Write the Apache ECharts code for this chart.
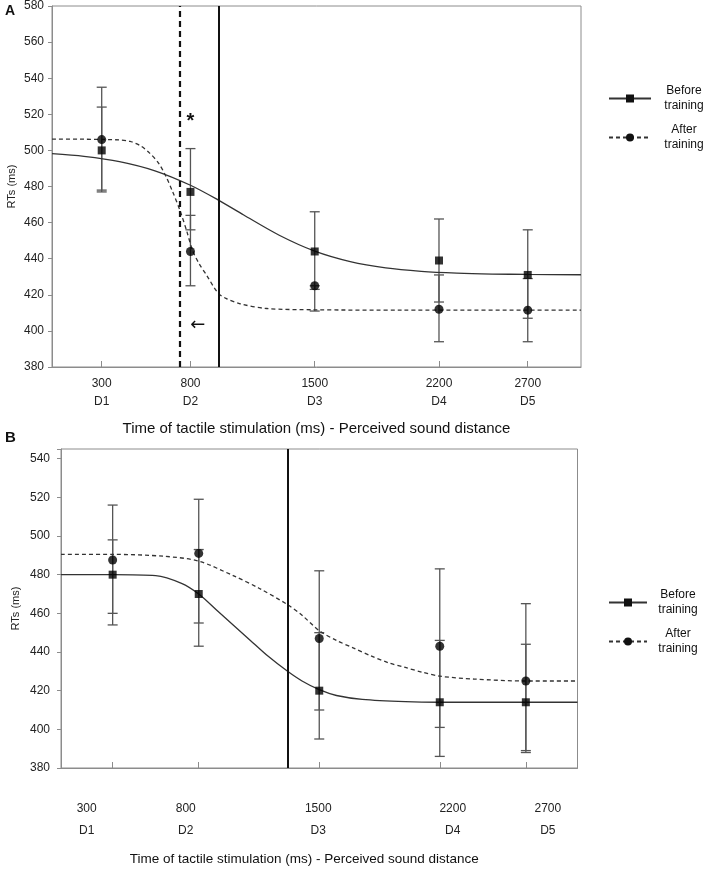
<!DOCTYPE html>
<html>
<head>
<meta charset="utf-8">
<script src="https://cdn.jsdelivr.net/npm/echarts@6/dist/echarts.min.js"></script>
<style>
html,body{margin:0;padding:0;background:#fff;}
#chart{width:708px;height:872px;}
</style>
</head>
<body>
<div id="chart"></div>
<script>
// ---------- data ----------
const xTicks = [300, 800, 1500, 2200, 2700];
const distLabels = ['D1', 'D2', 'D3', 'D4', 'D5'];
const xTitle = 'Time of tactile stimulation (ms) - Perceived sound distance';
const seriesNames = ['Before training', 'After training'];

// Panel A: means and error-bar extents [low, high]
const beforeA = [500, 477, 444, 439, 431];
const afterA = [506, 444, 425, 412, 411.5];
const beforeAErr = [[478, 524], [456, 501], [423, 466], [416, 462], [407, 456]];
const afterAErr = [[477, 535], [425, 464], [411, 425], [394, 431], [394, 429]];
// Panel A fitted curves
const curveTA = [20, 200, 400, 600, 800, 955, 1100, 1300, 1500, 1700, 1900, 2100, 2300, 2500, 2700, 3000];
const beforeCurveA = [498.2, 496.7, 493.8, 488.7, 480.7, 472.6, 464.2, 453.0, 444.2, 438.4, 434.9, 433.0, 432.0, 431.5, 431.3, 431.1];
const afterCurveTA = [20, 200, 400, 460, 520, 570, 620, 660, 700, 740, 780, 812, 850, 890, 955, 1000, 1080, 1230, 1500, 2000, 3000];
const afterCurveA = [506.3, 506.2, 505.8, 505, 502.5, 498.5, 493, 486, 477, 467, 455, 444.5, 437, 431, 421, 418, 415, 412.4, 411.7, 411.5, 411.5];
const pseBeforeA = 957;
const pseAfterA = 741;
const starA = [800, 516];
const arrowA = [841, 403];

// Panel B
const beforeB = [480, 470, 420, 414, 414];
const afterB = [487.6, 491, 447, 443, 425];
const beforeBErr = [[460, 498], [443, 493], [395, 450], [386, 446], [388, 444]];
const afterBErr = [[454, 516], [455, 519], [410, 482], [401, 483], [389, 465]];
const curveTB = [0, 300, 550, 700, 800, 900, 1000, 1100, 1200, 1316, 1400, 1500, 1600, 1750, 2000, 2200, 3000];
const beforeCurveB = [480, 480, 479.5, 475.5, 470, 462, 454, 446, 438, 430, 425, 420.5, 417.5, 415.5, 414.3, 414, 414];
const afterCurveTB = [0, 300, 600, 800, 1000, 1150, 1316, 1400, 1500, 1600, 1700, 1800, 1900, 2000, 2100, 2200, 2400, 2700, 3000];
const afterCurveB = [490.5, 490.5, 489.5, 487, 479.5, 473, 464.5, 459, 451, 446, 442, 438, 434.5, 432, 429.5, 427.5, 426, 425, 425];
const pseB = 1316;

// ---------- styles ----------
const FONT = 'Liberation Sans, Arial, sans-serif';
const frameColor = '#8c8c8c';
const errColor = '#555';
const labelShiftB = [-26, -13, -1, 13, 22]; // horizontal label offsets in panel B (px)

function zip(a, b) { return a.map((v, i) => [v, b[i]]); }
function errData(err) { return err.map((e, i) => [xTicks[i], e[0], e[1]]); }

function errRender(params, api) {
  const x = api.value(0), lo = api.value(1), hi = api.value(2);
  const p1 = api.coord([x, lo]), p2 = api.coord([x, hi]);
  const w = 5;
  const st = { stroke: errColor, lineWidth: 1.3 };
  return {
    type: 'group',
    children: [
      { type: 'line', shape: { x1: p1[0], y1: p1[1], x2: p2[0], y2: p2[1] }, style: st },
      { type: 'line', shape: { x1: p1[0] - w, y1: p1[1], x2: p1[0] + w, y2: p1[1] }, style: st },
      { type: 'line', shape: { x1: p2[0] - w, y1: p2[1], x2: p2[0] + w, y2: p2[1] }, style: st }
    ]
  };
}

function xAxisCfg(gi, min, opts) {
  return {
    gridIndex: gi, type: 'value', min: min, max: 3000,
    splitLine: { show: false },
    axisLine: { show: true, lineStyle: { color: frameColor, width: 1 } },
    axisTick: { show: true, customValues: xTicks, inside: true, length: 6, lineStyle: { color: frameColor } },
    axisLabel: opts.axisLabel,
    name: xTitle, nameLocation: 'middle', nameGap: opts.nameGap,
    nameTextStyle: opts.nameTextStyle
  };
}
function yAxisCfg(gi, max, nameGap, margin) {
  return {
    gridIndex: gi, type: 'value', min: 380, max: max, interval: 20,
    splitLine: { show: false },
    axisLine: { show: true, lineStyle: { color: frameColor } },
    axisTick: { show: true, length: 4, lineStyle: { color: frameColor } },
    axisLabel: { fontSize: 12, margin: margin, color: '#222', fontFamily: FONT,
      formatter: v => (v % 20 === 0 ? String(v) : '') },
    name: 'RTs (ms)', nameLocation: 'middle', nameGap: nameGap, nameMoveOverlap: false,
    nameTextStyle: { fontSize: 11, color: '#222', fontFamily: FONT }
  };
}

function curveSeries(name, gi, data, dashed, symbol, extra) {
  return Object.assign({
    name: name, type: 'line', xAxisIndex: gi, yAxisIndex: gi,
    data: data, smooth: 0.3, showSymbol: false, symbol: symbol, symbolSize: 8,
    color: '#111',
    lineStyle: { color: '#333', width: 1.3, type: dashed ? [4, 3] : 'solid' },
    z: 3, silent: true
  }, extra || {});
}
function pointSeries(gi, data, symbol, size) {
  return {
    name: 'pts', type: 'scatter', xAxisIndex: gi, yAxisIndex: gi,
    data: data, symbol: symbol, symbolSize: size,
    itemStyle: { color: '#000' }, z: 5, silent: true
  };
}
function errSeries(gi, data) {
  return {
    name: 'err', type: 'custom', xAxisIndex: gi, yAxisIndex: gi,
    data: data, renderItem: errRender, encode: { x: 0, y: [1, 2] }, z: 2, silent: true
  };
}
function legendCfg(left, top, itemWidth, textWidth) {
  return {
    orient: 'vertical', left: left, top: top, itemWidth: itemWidth, itemHeight: 10, itemGap: 12,
    selectedMode: false, data: seriesNames,
    formatter: n => '{t|' + n.replace(' ', '\n') + '}',
    textStyle: { rich: { t: { fontSize: 12, lineHeight: 15, width: textWidth, align: 'center', color: '#111', fontFamily: FONT } } }
  };
}

const option = {
  backgroundColor: '#fff',
  animation: false,
  textStyle: { fontFamily: FONT },
  title: [
    { text: 'A', left: 5, top: 4, padding: 0, textStyle: { fontSize: 14, fontWeight: 'bold', color: '#111', fontFamily: FONT } },
    { text: 'B', left: 5, top: 430, padding: 0, textStyle: { fontSize: 15, fontWeight: 'bold', color: '#111', fontFamily: FONT } }
  ],
  legend: [legendCfg(603, 80, 42, 56), legendCfg(603, 584, 38, 52)],
  grid: [
    { left: 52, top: 6, width: 529, height: 361, show: true, borderColor: frameColor, borderWidth: 1,
      containLabel: false, outerBoundsMode: 'none' },
    { left: 61, top: 449, width: 516.5, height: 319, show: true, borderColor: frameColor, borderWidth: 1,
      containLabel: false, outerBoundsMode: 'none' }
  ],
  xAxis: [
    xAxisCfg(0, 20, {
      axisLabel: { customValues: xTicks, margin: 8, fontSize: 12, lineHeight: 18, color: '#222', fontFamily: FONT,
        formatter: v => v + '\n' + distLabels[xTicks.indexOf(v)] },
      nameGap: 54, nameTextStyle: { fontSize: 15, color: '#111', fontFamily: FONT }
    }),
    xAxisCfg(1, 0, {
      axisLabel: { customValues: xTicks, margin: 30, fontSize: 12, lineHeight: 22, color: '#222', fontFamily: FONT,
        formatter: v => { const i = xTicks.indexOf(v); return '{s' + i + '|' + v + '}\n{s' + i + '|' + distLabels[i] + '}'; },
        rich: (function () {
          const r = {};
          labelShiftB.forEach((d, i) => {
            r['s' + i] = { fontSize: 12, lineHeight: 22, color: '#222', fontFamily: FONT,
              padding: d < 0 ? [0, -2 * d, 0, 0] : [0, 0, 0, 2 * d] };
          });
          return r;
        })()
      },
      nameGap: 84, nameTextStyle: { fontSize: 13.5, color: '#111', fontFamily: FONT, padding: [0, 30, 0, 0] }
    })
  ],
  yAxis: [yAxisCfg(0, 580, 35, 8), yAxisCfg(1, 545, 40, 11)],
  series: [
    // Panel A
    errSeries(0, errData(beforeAErr)),
    errSeries(0, errData(afterAErr)),
    curveSeries(seriesNames[0], 0, zip(curveTA, beforeCurveA), false, 'rect', {
      markLine: {
        silent: true, symbol: 'none', label: { show: false },
        data: [
          { xAxis: pseAfterA, lineStyle: { type: [6, 4], width: 2.2, color: '#111' } },
          { xAxis: pseBeforeA, lineStyle: { type: 'solid', width: 2, color: '#111' } }
        ]
      }
    }),
    curveSeries(seriesNames[1], 0, zip(afterCurveTA, afterCurveA), true, 'circle', {
      markPoint: {
        silent: true, symbol: 'circle', symbolSize: 1, itemStyle: { color: 'rgba(0,0,0,0)' },
        label: { show: true, position: 'inside', color: '#111' },
        data: [
          { coord: starA, label: { formatter: '*', fontSize: 20, fontWeight: 'bold', fontFamily: FONT } },
          { coord: arrowA, label: { formatter: '\u2190', fontSize: 18, fontFamily: 'DejaVu Sans' } }
        ]
      }
    }),
    pointSeries(0, zip(xTicks, beforeA), 'rect', 8),
    pointSeries(0, zip(xTicks, afterA), 'circle', 9),
    // Panel B
    errSeries(1, errData(beforeBErr)),
    errSeries(1, errData(afterBErr)),
    curveSeries(seriesNames[0], 1, zip(curveTB, beforeCurveB), false, 'rect', {
      markLine: {
        silent: true, symbol: 'none', label: { show: false },
        data: [{ xAxis: pseB, lineStyle: { type: 'solid', width: 2, color: '#111' } }]
      }
    }),
    curveSeries(seriesNames[1], 1, zip(afterCurveTB, afterCurveB), true, 'circle'),
    pointSeries(1, zip(xTicks, beforeB), 'rect', 8),
    pointSeries(1, zip(xTicks, afterB), 'circle', 9)
  ]
};

const chart = echarts.init(document.getElementById('chart'), null, { renderer: 'canvas' });
chart.setOption(option);
</script>
</body>
</html>
